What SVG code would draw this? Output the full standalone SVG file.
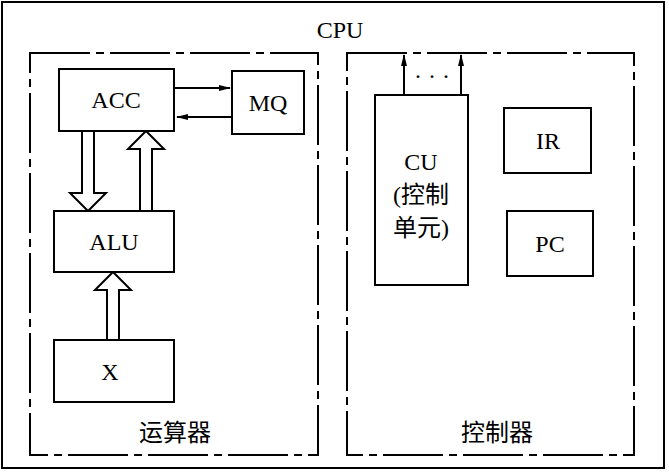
<svg xmlns="http://www.w3.org/2000/svg" width="669" height="473" viewBox="0 0 669 473">
<style>
.b{fill:#fff;stroke:#000;stroke-width:2}
.d{fill:none;stroke:#000;stroke-width:2;stroke-dasharray:60 6 8 6}
.l{stroke:#000;stroke-width:2;fill:none}
.h{fill:#fff;stroke:#000;stroke-width:2;stroke-linejoin:miter}
text{font-family:"Liberation Serif","Noto Sans CJK SC",serif;font-size:24px;text-anchor:middle}
</style>
<defs><marker id="a" markerWidth="12" markerHeight="8" refX="11" refY="4" orient="auto" markerUnits="userSpaceOnUse"><path d="M0,1 L12,4 L0,7 Z"/></marker></defs>
<rect x="2" y="2" width="662" height="466" fill="#fff" stroke="#000" stroke-width="2"/>
<text x="340" y="38">CPU</text>
<rect class="d" x="30" y="53" width="288" height="402"/>
<rect class="d" x="347" y="53" width="287" height="402"/>
<text x="175" y="441">运算器</text>
<text x="497" y="441">控制器</text>
<g id="connectors">
<line class="l" x1="175" y1="88" x2="230" y2="88" marker-end="url(#a)"/>
<line class="l" x1="232" y1="117" x2="177" y2="117" marker-end="url(#a)"/>
<path class="h" d="M82,131 V193 H70 L88,211 L106,193 H94 V131"/>
<path class="h" d="M140,211 V149 H128 L146,131 L164,149 H152 V211"/>
<path class="h" d="M107,340 V290 H95 L113,272 L131,290 H119 V340"/>
<line class="l" x1="404" y1="95" x2="404" y2="55" marker-end="url(#a)"/>
<line class="l" x1="461" y1="95" x2="461" y2="55" marker-end="url(#a)"/>
<text x="432" y="84">· · ·</text>
</g>
<g id="acc"><rect class="b" x="59" y="69" width="115" height="62"/><text x="116" y="108">ACC</text></g>
<g id="mq"><rect class="b" x="232" y="71" width="72" height="63"/><text x="268" y="111">MQ</text></g>
<g id="alu"><rect class="b" x="54" y="211" width="120" height="61"/><text x="114" y="250">ALU</text></g>
<g id="x"><rect class="b" x="54" y="340" width="120" height="62"/><text x="110" y="380">X</text></g>
<g id="cu"><rect class="b" x="375" y="95" width="93" height="190"/><text x="421" y="170">CU</text><text x="421" y="203">(控制</text><text x="421" y="236">单元)</text></g>
<g id="ir"><rect class="b" x="504" y="108" width="87" height="65"/><text x="548" y="149">IR</text></g>
<g id="pc"><rect class="b" x="507" y="211" width="86" height="65"/><text x="550" y="252">PC</text></g>
</svg>
